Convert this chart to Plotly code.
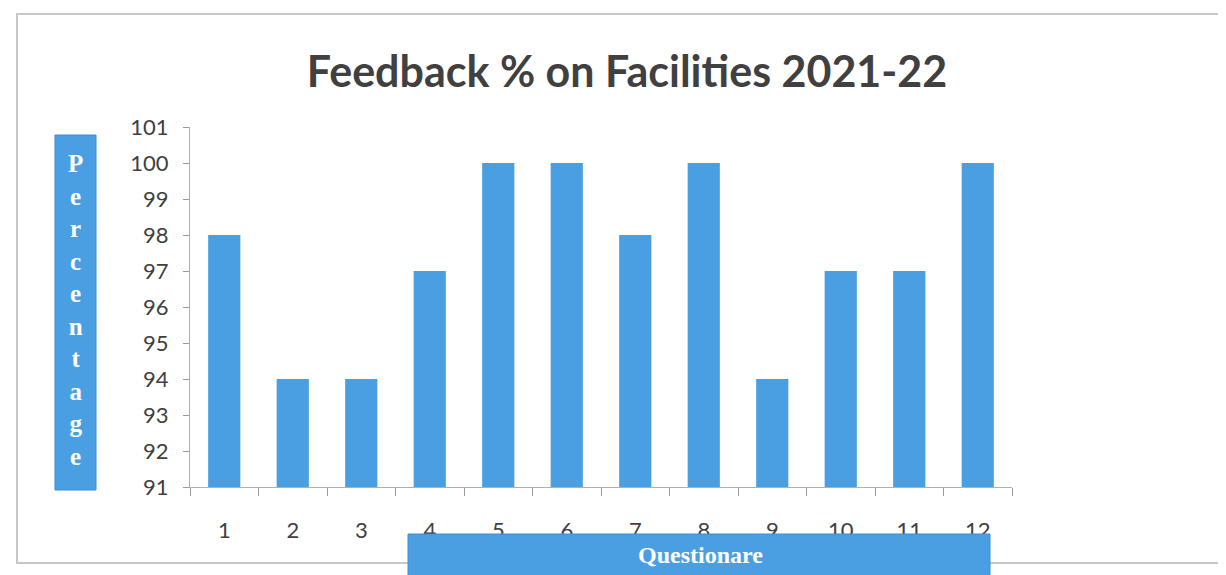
import plotly.graph_objects as go

questions = [str(i) for i in range(1, 13)]
feedback_pct = [98, 94, 94, 97, 100, 100, 98, 100, 94, 97, 97, 100]
y_ticks = list(range(91, 102))

title_text = "Feedback % on Facilities 2021-22"
y_label = "Percentage"
x_label = "Questionare"

W, H = 1226, 575
OFF = 8  # page body margin shifts the figure by 8px
L, R, T, B = 190 - OFF, 1012 - OFF, 127 - OFF, 487 - OFF

BLUE = "#4a9fe2"
GRAY = "#404040"

fig = go.Figure()
fig.add_trace(go.Bar(
    x=questions, y=feedback_pct, marker=dict(color=BLUE, line=dict(width=0)),
    width=0.47, showlegend=False,
))


def fx(x):
    """reference screen pixel x -> paper coords"""
    return (x - OFF - L) / (R - L)


def fy(y):
    """reference screen pixel y -> paper coords"""
    return (B - (y - OFF)) / (B - T)


fig.update_layout(
    width=W, height=H,
    margin=dict(l=L, r=W - R, t=T, b=H - B, pad=0),
    paper_bgcolor="white", plot_bgcolor="white",
    title=dict(text=f"<b>{title_text}</b>", x=(627 - OFF) / W, xanchor="center",
               y=1 - (72 - OFF) / H, yanchor="middle",
               font=dict(family="Lato", size=43, color=GRAY)),
    xaxis=dict(
        type="category", showgrid=False, showline=True, linecolor="#b0b0b0", linewidth=1,
        ticks="outside", ticklen=8, tickcolor="#9a9a9a", tickson="boundaries",
        ticklabelstandoff=24,
        tickfont=dict(family="Lato", size=22, color=GRAY),
    ),
    yaxis=dict(
        range=[91, 101], tickvals=y_ticks, showgrid=False, showline=True,
        linecolor="#b0b0b0", linewidth=1, ticks="outside", ticklen=6, tickcolor="#9a9a9a",
        ticklabelstandoff=10,
        tickfont=dict(family="Lato", size=22, color=GRAY), zeroline=False,
    ),
    shapes=[
        # outer frame
        dict(type="rect", xref="paper", yref="paper",
             x0=fx(17), x1=fx(1250), y0=fy(563), y1=fy(14),
             line=dict(color="#c8c8c8", width=2), fillcolor="rgba(0,0,0,0)", layer="below"),
        # y-axis label box
        dict(type="rect", xref="paper", yref="paper",
             x0=fx(55), x1=fx(96), y0=fy(490), y1=fy(135),
             line=dict(color="#3a8cd0", width=1), fillcolor=BLUE),
        # x-axis label box
        dict(type="rect", xref="paper", yref="paper",
             x0=fx(408), x1=fx(990), y0=fy(600), y1=fy(534),
             line=dict(color="#3a8cd0", width=1), fillcolor=BLUE),
    ],
    annotations=[
        dict(text="<b>" + "<br>".join(list(y_label)) + "</b>", xref="paper", yref="paper",
             x=fx(75.5), y=fy(310), xanchor="center", yanchor="middle",
             showarrow=False, align="center",
             font=dict(family="Liberation Serif", size=25, color="white")),
        dict(text=f"<b>{x_label}</b>", xref="paper", yref="paper",
             x=fx(700), y=fy(555), xanchor="center", yanchor="middle",
             showarrow=False,
             font=dict(family="Liberation Serif", size=24, color="white")),
    ],
)

fig.write_html("out.html")
